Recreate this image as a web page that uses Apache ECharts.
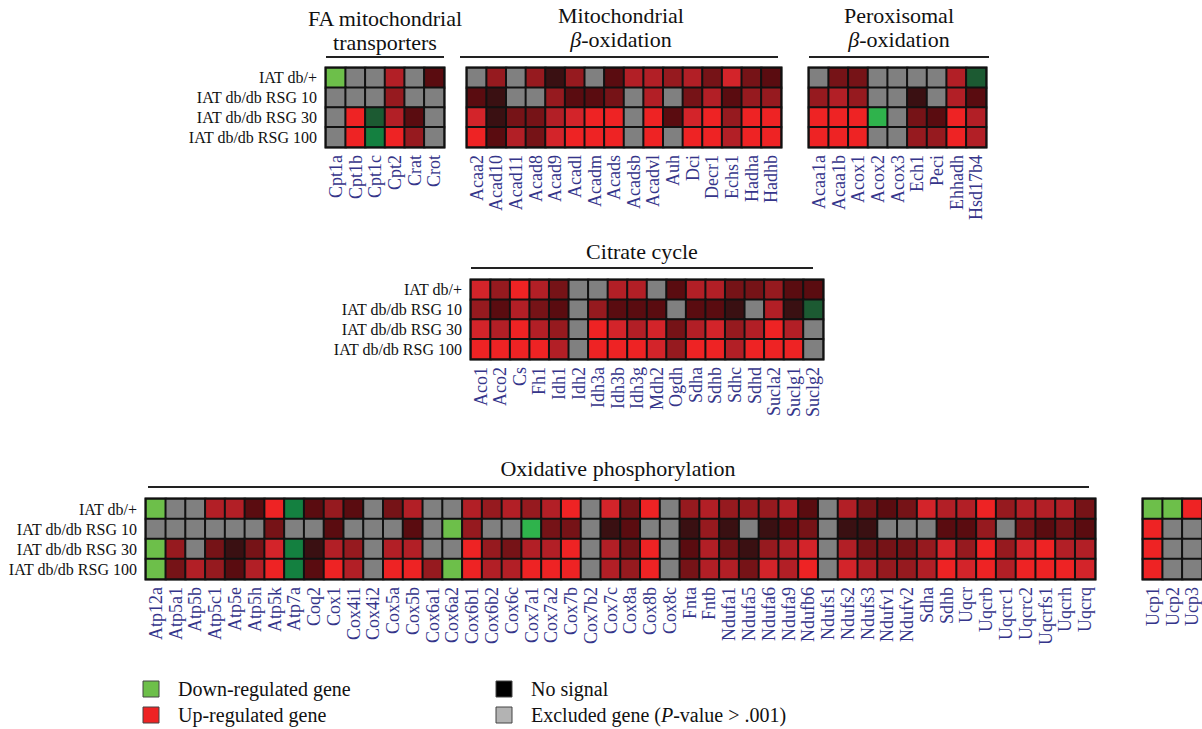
<!DOCTYPE html>
<html>
<head>
<meta charset="utf-8">
<script src="https://cdn.jsdelivr.net/npm/echarts@6/dist/echarts.min.js"></script>
<style>
  html, body { margin: 0; padding: 0; background: #fff; }
  #chart { width: 1202px; height: 729px; }
</style>
</head>
<body>
<div id="chart"></div>
<script>
// Expression codes: 7..1 = up-regulated (7 strongest, 1 weakest),
// -1..-4 = down-regulated (-4 strongest), 0 = excluded (P > .001), 9 = no signal
const ROWS = ['IAT db/+', 'IAT db/db RSG 10', 'IAT db/db RSG 30', 'IAT db/db RSG 100'];

const faGenes = ['Cpt1a', 'Cpt1b', 'Cpt1c', 'Cpt2', 'Crat', 'Crot'];
const faValues = [
  [-4, 0, 0, 5, 0, 2],
  [0, 0, 0, 4, 0, 0],
  [0, 7, -1, 5, 2, 0],
  [0, 7, -2, 7, 4, 0]
];

const mitoGenes = ['Acaa2', 'Acad10', 'Acad11', 'Acad8', 'Acad9', 'Acadl', 'Acadm', 'Acads',
  'Acadsb', 'Acadvl', 'Auh', 'Dci', 'Decr1', 'Echs1', 'Hadha', 'Hadhb'];
const mitoValues = [
  [0, 4, 0, 4, 1, 4, 0, 2, 5, 5, 4, 5, 3, 6, 3, 2],
  [2, 1, 0, 0, 4, 2, 2, 3, 0, 5, 0, 3, 5, 2, 4, 4],
  [6, 1, 3, 3, 5, 6, 7, 7, 0, 7, 2, 6, 7, 4, 7, 7],
  [7, 2, 5, 3, 6, 7, 7, 7, 0, 7, 0, 7, 7, 5, 7, 7]
];

const peroxGenes = ['Acaa1a', 'Acaa1b', 'Acox1', 'Acox2', 'Acox3', 'Ech1', 'Peci', 'Ehhadh', 'Hsd17b4'];
const peroxValues = [
  [0, 3, 3, 0, 0, 0, 0, 5, -1],
  [4, 5, 4, 0, 0, 1, 0, 5, 2],
  [7, 7, 7, -3, 0, 3, 2, 7, 5],
  [7, 7, 7, 0, 0, 4, 4, 7, 5]
];

const tcaGenes = ['Aco1', 'Aco2', 'Cs', 'Fh1', 'Idh1', 'Idh2', 'Idh3a', 'Idh3b', 'Idh3g', 'Mdh2',
  'Ogdh', 'Sdha', 'Sdhb', 'Sdhc', 'Sdhd', 'Sucla2', 'Suclg1', 'Suclg2'];
const tcaValues = [
  [6, 4, 7, 5, 3, 0, 0, 5, 5, 0, 2, 5, 5, 3, 3, 4, 2, 2],
  [4, 2, 5, 3, 2, 0, 4, 2, 2, 2, 0, 2, 2, 1, 0, 5, 1, -1],
  [6, 5, 7, 5, 4, 0, 7, 6, 5, 6, 3, 5, 6, 4, 5, 7, 5, 0],
  [7, 7, 7, 7, 5, 0, 7, 7, 7, 6, 4, 7, 7, 5, 7, 7, 7, 0]
];

const oxGenes = ['Atp12a', 'Atp5a1', 'Atp5b', 'Atp5c1', 'Atp5e', 'Atp5h', 'Atp5k', 'Atp7a', 'Coq2',
  'Cox1', 'Cox4i1', 'Cox4i2', 'Cox5a', 'Cox5b', 'Cox6a1', 'Cox6a2', 'Cox6b1', 'Cox6b2', 'Cox6c',
  'Cox7a1', 'Cox7a2', 'Cox7b', 'Cox7b2', 'Cox7c', 'Cox8a', 'Cox8b', 'Cox8c', 'Fnta', 'Fntb',
  'Ndufa1', 'Ndufa5', 'Ndufa6', 'Ndufa9', 'Ndufb6', 'Ndufs1', 'Ndufs2', 'Ndufs3', 'Ndufv1',
  'Ndufv2', 'Sdha', 'Sdhb', 'Uqcr', 'Uqcrb', 'Uqcrc1', 'Uqcrc2', 'Uqcrfs1', 'Uqcrh', 'Uqcrq'];
const oxValues = [
  [-4, 0, 0, 5, 5, 2, 7, -2, 2, 4, 2, 0, 3, 5, 0, 0, 5, 4, 5, 4, 5, 7, 0, 6,
   3, 7, 0, 4, 5, 4, 4, 4, 5, 2, 0, 5, 3, 2, 3, 6, 5, 5, 7, 4, 5, 5, 5, 3],
  [0, 0, 0, 0, 0, 0, 3, 0, 0, 2, 0, 0, 0, 2, 0, -4, 4, 0, 0, -3, 3, 3, 0, 1,
   2, 0, 0, 1, 4, 1, 0, 1, 2, 3, 0, 1, 1, 0, 0, 0, 2, 2, 4, 0, 3, 2, 3, 2],
  [-4, 4, 0, 3, 1, 3, 6, -2, 1, 5, 4, 0, 5, 5, 0, 0, 7, 4, 3, 5, 5, 7, 0, 5,
   3, 7, 0, 2, 5, 3, 1, 4, 5, 6, 0, 5, 3, 3, 3, 4, 6, 4, 7, 4, 6, 7, 5, 5],
  [-4, 3, 5, 4, 2, 5, 7, -2, 2, 7, 5, 0, 7, 7, 4, -4, 7, 5, 5, 7, 7, 7, 0, 5,
   4, 7, 0, 3, 5, 5, 3, 6, 5, 7, 0, 6, 5, 4, 4, 5, 7, 6, 7, 5, 7, 7, 7, 6]
];

const ucpGenes = ['Ucp1', 'Ucp2', 'Ucp3'];
const ucpValues = [
  [-4, -4, 7],
  [7, 0, 0],
  [7, 0, 0],
  [7, 0, 0]
];

const CODE_COLORS = [
  { value: 7, color: '#ee2324' },
  { value: 6, color: '#d3242a' },
  { value: 5, color: '#b21f26' },
  { value: 4, color: '#961a1f' },
  { value: 3, color: '#761317' },
  { value: 2, color: '#5a0c10' },
  { value: 1, color: '#3a1012' },
  { value: -1, color: '#1c5a32' },
  { value: -2, color: '#148040' },
  { value: -3, color: '#2fb34c' },
  { value: -4, color: '#6dbf4a' },
  { value: 0, color: '#808080' },
  { value: 9, color: '#000000' }
];

const SERIF = '"Liberation Serif", "DejaVu Serif", serif';

// Panel placement (pixel boxes of each heat grid)
const panels = [
  { genes: faGenes, values: faValues, box: { left: 326, top: 68, width: 118, height: 79 }, rowLabels: true },
  { genes: mitoGenes, values: mitoValues, box: { left: 467, top: 68, width: 314, height: 79 } },
  { genes: peroxGenes, values: peroxValues, box: { left: 809, top: 68, width: 177, height: 79 } },
  { genes: tcaGenes, values: tcaValues, box: { left: 471, top: 280, width: 352, height: 79 }, rowLabels: true },
  { genes: oxGenes, values: oxValues, box: { left: 146, top: 499, width: 949, height: 80 }, rowLabels: true },
  { genes: ucpGenes, values: ucpValues, box: { left: 1143, top: 499, width: 59, height: 80 } }
];

const grid = [], xAxis = [], yAxis = [], series = [];
panels.forEach((p, i) => {
  grid.push(Object.assign({ show: true, borderColor: '#111', borderWidth: 3, backgroundColor: 'transparent' }, p.box));
  xAxis.push({
    type: 'category', gridIndex: i, data: p.genes, position: 'bottom',
    axisTick: { show: false }, axisLine: { show: false }, splitLine: { show: false },
    axisLabel: { rotate: 90, interval: 0, margin: 8, color: '#35358a', fontFamily: SERIF, fontSize: 18 }
  });
  yAxis.push({
    type: 'category', gridIndex: i, data: ROWS, inverse: true,
    axisTick: { show: false }, axisLine: { show: false }, splitLine: { show: false },
    axisLabel: { show: !!p.rowLabels, interval: 0, margin: 9, color: '#111', fontFamily: SERIF, fontSize: 16 }
  });
  const data = [];
  p.values.forEach((row, r) => row.forEach((v, c) => data.push([c, r, v])));
  series.push({
    type: 'heatmap', xAxisIndex: i, yAxisIndex: i, data: data,
    itemStyle: { borderColor: '#111', borderWidth: 2 },
    emphasis: { disabled: true }, silent: true, animation: false
  });
});

// Group titles with rules underneath
function title(x, y, text) {
  return {
    type: 'text', x: x, y: y, silent: true,
    style: {
      text: text, fill: '#111', font: '22px ' + SERIF, textAlign: 'center', textVerticalAlign: 'top',
      lineHeight: 24, rich: { i: { fontStyle: 'italic', fontFamily: SERIF, fontSize: 22, fill: '#111' } }
    }
  };
}
function rule(x1, x2, y) {
  return { type: 'line', silent: true, shape: { x1: x1, y1: y, x2: x2, y2: y }, style: { stroke: '#222', lineWidth: 2 } };
}
function legendItem(x, y, color, text) {
  return [
    { type: 'rect', silent: true, shape: { x: x, y: y, width: 16, height: 16 }, style: { fill: color, stroke: '#444', lineWidth: 1 } },
    {
      type: 'text', x: x + 35, y: y + 8, silent: true,
      style: { text: text, fill: '#111', font: '20px ' + SERIF, textVerticalAlign: 'middle',
        rich: { i: { fontStyle: 'italic', fontFamily: SERIF, fontSize: 20, fill: '#111' } } }
    }
  ];
}

const graphic = [
  title(385, 6, 'FA mitochondrial\ntransporters'),
  title(621, 3, 'Mitochondrial\n{i|β}-oxidation'),
  title(899, 3, 'Peroxisomal\n{i|β}-oxidation'),
  title(642, 239, 'Citrate cycle'),
  title(618, 456, 'Oxidative phosphorylation'),
  rule(326, 444, 57),
  rule(460, 778, 57),
  rule(809, 989, 57),
  rule(471, 813, 268),
  rule(148, 1089, 487)
].concat(
  legendItem(143, 681, '#6dbf4a', 'Down-regulated gene'),
  legendItem(143, 707, '#ee2324', 'Up-regulated gene'),
  legendItem(496, 681, '#000000', 'No signal'),
  legendItem(496, 707, '#b3b3b3', 'Excluded gene ({i|P}-value > .001)')
);

const chart = echarts.init(document.getElementById('chart'), null, { renderer: 'svg' });
chart.setOption({
  animation: false,
  backgroundColor: '#fff',
  grid: grid,
  xAxis: xAxis,
  yAxis: yAxis,
  visualMap: {
    type: 'piecewise', show: false, dimension: 2,
    seriesIndex: series.map((s, i) => i),
    pieces: CODE_COLORS
  },
  series: series,
  graphic: graphic
});
</script>
</body>
</html>
